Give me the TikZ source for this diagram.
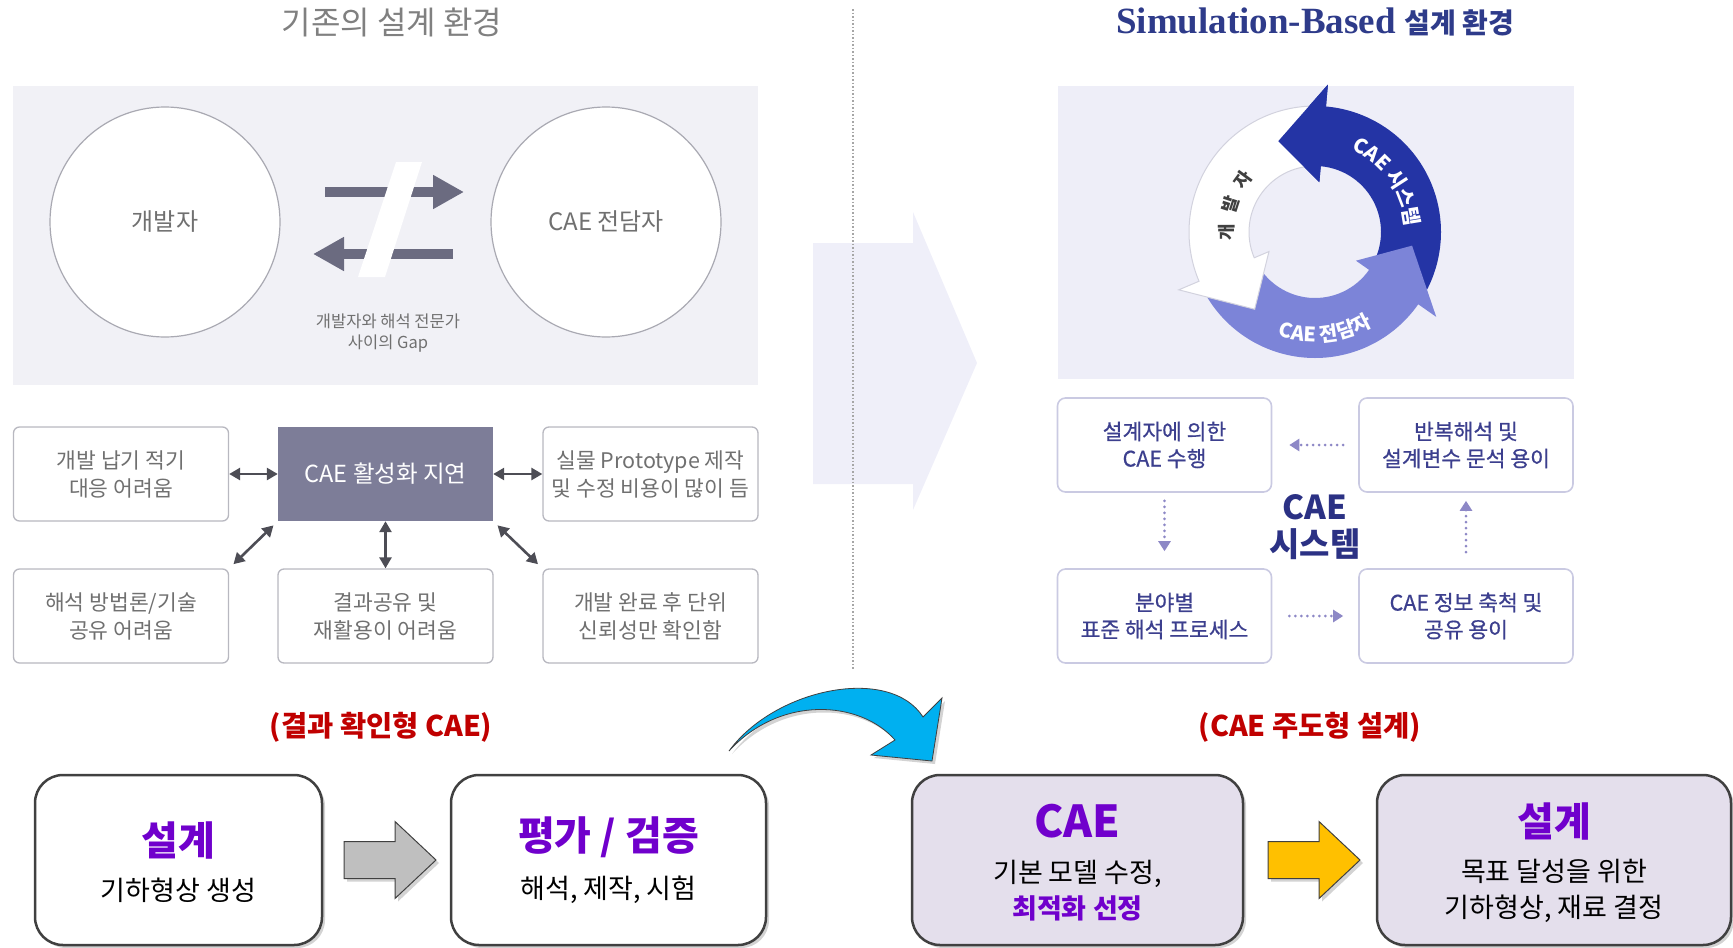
\documentclass[tikz,border=0pt]{standalone}
\usepackage{fontspec}
\setmainfont{Noto Sans CJK KR}
\newfontfamily\latinserif{Liberation Serif}
\usepackage{tikz}
\usetikzlibrary{shapes.geometric, arrows.meta, positioning, calc, shadows, decorations.text}

\definecolor{panelL}{HTML}{F1F1F6}
\definecolor{panelR}{HTML}{EEEEF8}
\definecolor{bigfaint}{HTML}{EFEFF9}
\definecolor{softgray}{HTML}{707070}
\definecolor{circline}{HTML}{A9A9B2}
\definecolor{gapgray}{HTML}{6B6B80}
\definecolor{delayfill}{HTML}{7D7D98}
\definecolor{boxline}{HTML}{B8B8C0}
\definecolor{dblgray}{HTML}{4D4D55}
\definecolor{lavline}{HTML}{CACAE2}
\definecolor{navytext}{HTML}{3C3F8E}
\definecolor{navybold}{HTML}{2B3184}
\definecolor{dotpurple}{HTML}{8D88C6}
\definecolor{cycblue}{HTML}{2434A5}
\definecolor{cycperi}{HTML}{7C84D8}
\definecolor{cycrim}{HTML}{D2D2DE}
\definecolor{simblue}{HTML}{2E3B8A}
\definecolor{darkred}{HTML}{C00000}
\definecolor{vivpurple}{RGB}{112,0,204}
\definecolor{boxframe}{HTML}{404040}
\definecolor{lilac}{HTML}{E4DFEC}
\definecolor{barfill}{HTML}{BFBFBF}
\definecolor{gold}{HTML}{FFC000}
\definecolor{skyblue}{HTML}{00B0F0}

% one band of the cycle: style, tail angle, head base angle, tip angle
\newcommand{\cycarrow}[4]{%
  \path[#1] (#2:126pt) arc[start angle=#2, end angle=#3, radius=126pt]
    -- (#3:148pt) -- (#4:98pt) -- (#3:50pt) -- (#3:66pt)
    arc[start angle=#3, end angle=#2, radius=66pt] -- cycle;}

\begin{document}
\begin{tikzpicture}[x=1pt, y=-1pt,
    oldbox/.style={rectangle, rounded corners=6pt, draw=boxline, line width=1.3pt, fill=white,
      minimum width=215pt, minimum height=94pt, align=center, text=softgray,
      font=\fontsize{21.5}{28}\selectfont},
    simbox/.style={rectangle, rounded corners=8pt, draw=lavline, line width=1.6pt, fill=white,
      minimum width=214pt, minimum height=94pt, align=center, text=navytext,
      font=\fontsize{21.5}{27}\selectfont\addfontfeature{FakeBold=0.6}},
    flowbox/.style={rectangle, rounded corners=28pt, draw=boxframe, line width=2.5pt,
      minimum height=170pt, drop shadow={shadow xshift=3pt, shadow yshift=-3pt, opacity=0.35}},
    ftitle/.style={font=\fontsize{40}{46}\selectfont\bfseries, text=vivpurple},
    fsub/.style={font=\fontsize{27}{36}\selectfont, text=black, align=center},
    redhead/.style={font=\fontsize{28.5}{32}\selectfont\bfseries, text=darkred},
    gaparrow/.style={draw=gapgray, line width=10.5pt, -{Triangle[length=31pt,width=32pt]}},
    dblarrow/.style={draw=dblgray, line width=2.6pt, {Triangle[length=11pt,width=12pt]}-{Triangle[length=11pt,width=12pt]}},
    dotarrow/.style={draw=dotpurple, line width=3pt, line cap=round, dash pattern=on 0pt off 6pt,
      -{Triangle[length=10pt,width=12pt]}},
    blockarrow/.style={draw=boxframe, line width=1pt, drop shadow={shadow xshift=3pt, shadow yshift=-3pt, opacity=0.35}},
    sepline/.style={draw=gray!70, line width=1.3pt, dash pattern=on 1.5pt off 2pt}]

    \useasboundingbox (0,0) rectangle (1733,948);

    % background panels and the big faint arrow
    \fill[panelL] (13,86) rectangle (758,385);
    \fill[panelR] (1058,86) rectangle (1574,379);
    \fill[bigfaint] (813,243) -- (913,243) -- (913,212) -- (977,363) -- (913,510) -- (913,484) -- (813,484) -- cycle;
    \draw[sepline] (853,9) -- (853,669);

    % titles
    \node[font=\fontsize{32}{36}\selectfont, text=gray] (oldtitle) at (392,22) {기존의 설계 환경};
    \node[font=\fontsize{37}{42}\selectfont\bfseries, text=simblue] (simtitle) at (1315,22)
        {{\latinserif Simulation-Based} {\fontsize{28}{32}\selectfont 설계 환경}};

    % developer and analyst
    \node[circle, draw=circline, line width=1.2pt, fill=white, minimum size=230pt,
          text=softgray, font=\fontsize{24}{28}\selectfont] (dev) at (165,222) {개발자};
    \node[circle, draw=circline, line width=1.2pt, fill=white, minimum size=230pt,
          text=softgray, font=\fontsize{24}{28}\selectfont] (expert) at (606,222) {CAE 전담자};

    % the gap between them
    \draw[gaparrow] (325,192) -- (464,192);
    \draw[gaparrow] (453,254) -- (313,254);
    \fill[white] (396,162) -- (422,162) -- (385,277) -- (358,277) -- cycle;
    \node[font=\fontsize{16.5}{21}\selectfont, text=softgray, align=center] (gaptext) at (388,333)
        {개발자와 해석 전문가\\사이의 Gap};

    % problems around the delay
    \node[oldbox] (nap) at (121,474) {개발 납기 적기\\대응 어려움};
    \node[rectangle, fill=delayfill, minimum width=215pt, minimum height=94pt, text=white,
          font=\fontsize{23.5}{28}\selectfont] (delay) at (385.5,474) {CAE 활성화 지연};
    \node[oldbox] (proto) at (650.5,474) {실물 Prototype 제작\\및 수정 비용이 많이 듬};
    \node[oldbox] (meth) at (121,616) {해석 방법론/기술\\공유 어려움};
    \node[oldbox] (reuse) at (385.5,616) {결과공유 및\\재활용이 어려움};
    \node[oldbox] (unit) at (650.5,616) {개발 완료 후 단위\\신뢰성만 확인함};

    \draw[dblarrow] (delay) -- (nap);
    \draw[dblarrow] (delay) -- (proto);
    \draw[dblarrow] (delay) -- (reuse);
    \draw[dblarrow, shorten <=6pt, shorten >=6pt] (delay.south west) -- (meth.north east);
    \draw[dblarrow, shorten <=6pt, shorten >=6pt] (delay.south east) -- (unit.north west);

    % cycle of developer, analyst and CAE system, labels bent along the bands
    \begin{scope}[shift={(1315,232)}]
        \cycarrow{fill=cycblue}{-30}{85}{112}
        \cycarrow{fill=cycperi}{210}{325}{352}
        \cycarrow{fill=white, draw=cycrim, line width=1pt}{92}{203}{232}
        \fill[cycblue] (85:148pt) -- (112:98pt) -- (85:50pt) -- cycle;

        \path[decorate, decoration={text along path, text align=fit to path,
              text={|\fontsize{18}{18}\selectfont\bfseries\color{black!75}|개발자}}]
            (186:82pt) arc[start angle=186, end angle=138, radius=82pt];
        \path[decorate, decoration={text along path, text align=center,
              text={|\fontsize{20}{20}\selectfont\bfseries\color{white}|CAE 시스템}}]
            (78:90pt) arc[start angle=78, end angle=-8, radius=90pt];
        \path[decorate, decoration={text along path, text align=center,
              text={|\fontsize{20}{20}\selectfont\bfseries\color{white}|CAE 전담자}}]
            (240:110pt) arc[start angle=240, end angle=312, radius=110pt];
    \end{scope}

    % CAE system loop
    \node[simbox] (byuser) at (1164.5,445) {설계자에 의한\\CAE 수행};
    \node[simbox] (iterate) at (1466,445) {반복해석 및\\설계변수 문석 용이};
    \node[simbox] (stdproc) at (1164.5,616) {분야별\\표준 해석 프로세스};
    \node[simbox] (share) at (1466,616) {CAE 정보 축척 및\\공유 용이};
    \node[font=\fontsize{33}{37}\selectfont\bfseries, text=navybold, align=center] (caesys) at (1315,527) {CAE\\시스템};

    \draw[dotarrow, shorten <=15pt, shorten >=17pt] (iterate) -- (byuser);
    \draw[dotarrow, shorten <=8pt, shorten >=17pt] (byuser) -- (stdproc);
    \draw[dotarrow, shorten <=17pt, shorten >=15pt] (stdproc) -- (share);
    \draw[dotarrow, shorten <=16pt, shorten >=8pt] (share) -- (iterate);

    % bottom: two ways of working
    \node[redhead] (oldhead) at (381,727) {(결과 확인형 CAE)};
    \node[redhead] (newhead) at (1310,727) {(CAE 주도형 설계)};

    \node[flowbox, fill=white, minimum width=287pt] (design1) at (178.5,860) {};
    \node[ftitle] (design1t) at (178.5,840) {설계};
    \node[fsub] (design1s) at (178.5,890) {기하형상 생성};

    \node[flowbox, fill=white, minimum width=315pt] (eval1) at (608.5,860) {};
    \node[ftitle] (eval1t) at (608.5,837) {평가 / 검증};
    \node[fsub] (eval1s) at (608.5,890) {해석, 제작, 시험};

    \node[flowbox, fill=lilac, minimum width=331pt] (cae2) at (1077.5,860) {};
    \node[ftitle, font=\fontsize{44}{48}\selectfont\bfseries] (cae2t) at (1077.5,821) {CAE};
    \node[fsub] (cae2s) at (1077.5,891) {기본 모델 수정,\\\textcolor{vivpurple}{\bfseries 최적화 선정}};

    \node[flowbox, fill=lilac, minimum width=354pt] (design2) at (1554,860) {};
    \node[ftitle] (design2t) at (1554,821) {설계};
    \node[fsub] (design2s) at (1554,891) {목표 달성을 위한\\기하형상, 재료 결정};

    % block arrows between the boxes
    \draw[blockarrow, fill=barfill] (344,860) ++(0,-18.5) -- ++(51,0) -- ++(0,-20) -- ++(41,38.5)
        -- ++(-41,38.5) -- ++(0,-20) -- ++(-51,0) -- cycle;
    \draw[blockarrow, fill=gold] (1268,860) ++(0,-18.5) -- ++(51,0) -- ++(0,-20) -- ++(41,38.5)
        -- ++(-41,38.5) -- ++(0,-20) -- ++(-51,0) -- cycle;

    % curved arrow from old to new way
    \draw[blockarrow, fill=skyblue, line width=0.8pt] (729,751) .. controls (775,688) and (890,665) .. (923,717)
        -- (942,698) -- (932,761) -- (871,755) -- (895,740)
        .. controls (860,700) and (780,695) .. (729,751) -- cycle;
\end{tikzpicture}
\end{document}
